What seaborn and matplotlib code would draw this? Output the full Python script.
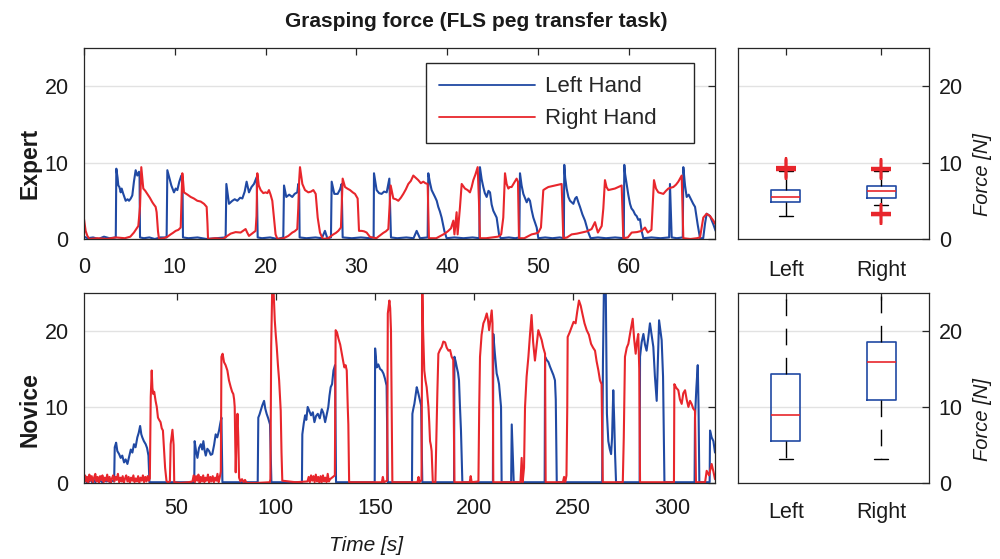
import numpy as np
import matplotlib
matplotlib.use("Agg")
import matplotlib.pyplot as plt
import seaborn as sns

# ---------------- data ----------------
expert_left_t = [0, 0.4, 1.0, 1.6, 2.2, 2.8, 3.5,
    3.56, 3.7, 3.78, 3.9, 4.04, 4.15, 4.3, 4.59, 4.8, 4.96, 5.15, 5.32, 5.5, 5.69, 5.87, 6.06, 6.12, 6.17,
    6.6, 7.2, 7.8, 8.4, 9.1,
    9.18, 9.4, 9.62, 9.91, 10.1, 10.28, 10.5, 10.72, 10.85, 10.9,
    11.5, 12.5, 13.5, 14.5, 15.6,
    15.68, 15.97, 16.34, 16.6, 16.89, 17.2, 17.44, 17.7, 17.91, 18.17, 18.45, 18.72, 19.02, 19.13,
    19.6, 20.5, 21.3, 21.95,
    22.03, 22.28, 22.6, 22.94, 23.2, 23.49, 23.6, 23.7, 23.75,
    24.5, 25.5, 26.2, 26.54, 26.8, 27.2,
    27.28, 27.57, 27.94, 28.2, 28.38, 28.49,
    29.5, 30.5, 31.5, 31.9,
    31.94, 32.23, 32.5, 32.78, 33.05, 33.34, 33.63, 33.81,
    34.5, 35.5, 36.3, 36.64, 37.0, 37.85,
    37.92, 38.1, 38.29, 38.66, 38.85, 39.02, 39.2, 39.39, 39.69, 39.94,
    40.8, 41.8, 42.8, 43.55,
    43.61, 43.8, 43.98, 44.15, 44.35, 44.55, 44.72, 44.9, 45.08, 45.45, 45.71, 45.9,
    46.8, 47.5, 47.95,
    48.02, 48.2, 48.39, 48.76, 48.95, 49.12, 49.3, 49.49, 49.86, 50.04,
    50.8, 51.6, 52.4, 52.85,
    52.9, 53.0, 53.16, 53.35, 53.53, 53.9, 54.1, 54.26, 54.45, 54.63, 54.9, 55.18, 55.55, 55.8,
    56.6, 57.5, 58.5, 59.45,
    59.51, 59.6, 59.77, 59.95, 60.14, 60.3, 60.5, 60.7, 60.87, 61.05, 61.24, 61.42, 61.6,
    62.5, 63.5, 64.45,
    64.54, 64.73, 65.3, 65.95,
    66.01, 66.2, 66.38, 66.6, 66.93, 67.1, 67.3, 67.59, 67.85,
    68.2, 68.4, 68.58, 68.95, 69.32, 69.57]
expert_left_f = [0.3, 0.1, 0.2, 0.0, 0.3, 0.1, 0.2,
    9.2, 8.0, 7.0, 6.8, 6.1, 6.6, 6.0, 5.0, 5.2, 5.0, 5.3, 5.7, 7.5, 9.0, 8.3, 8.8, 8.0, 0.2,
    0.1, 0.2, 0.0, 0.2, 0.2,
    9.0, 8.0, 7.0, 6.1, 6.6, 6.4, 7.5, 8.3, 7.5, 0.2,
    0.1, 0.2, 0.0, 0.1, 0.2,
    7.2, 4.6, 5.0, 5.2, 5.0, 5.4, 5.3, 6.2, 7.5, 6.1, 6.8, 7.2, 8.1, 0.2,
    0.1, 0.2, 0.0, 0.2,
    7.0, 5.5, 5.8, 5.5, 5.9, 6.1, 7.2, 6.5, 0.2,
    0.1, 0.2, 0.1, 1.06, 0.1, 0.2,
    7.5, 5.9, 5.9, 6.5, 7.2, 0.2,
    0.1, 0.2, 0.1, 0.2,
    8.6, 6.4, 6.0, 5.9, 6.2, 6.1, 7.9, 0.2,
    0.1, 0.2, 0.1, 1.06, 0.1, 0.2,
    8.6, 7.4, 6.4, 5.5, 5.0, 4.2, 3.6, 2.8, 1.06, 0.1,
    0.2, 0.1, 0.2, 0.1,
    9.4, 7.8, 6.8, 6.0, 5.5, 6.3, 6.1, 4.5, 3.7, 2.8, 0.6, 0.1,
    0.2, 0.1, 0.2,
    8.6, 7.0, 5.9, 4.8, 5.3, 5.0, 3.8, 2.8, 1.5, 0.1,
    0.2, 0.1, 0.2, 0.1,
    9.7, 8.0, 6.6, 5.5, 5.0, 4.6, 5.3, 5.5, 4.8, 4.2, 3.2, 2.4, 0.84, 0.1,
    0.2, 0.1, 0.2, 0.1,
    9.7, 8.5, 7.2, 5.8, 4.6, 4.0, 3.7, 3.2, 3.0, 2.5, 2.6, 1.06, 0.1,
    0.2, 0.1, 0.2,
    7.2, 0.2, 0.1, 0.2,
    9.4, 7.0, 5.5, 5.8, 5.0, 4.6, 4.2, 1.9, 0.1,
    0.1, 2.0, 3.3, 3.0, 1.9, 1.06]

expert_right_t = [0, 0.18, 0.37, 0.6, 1.5, 2.5, 3.5, 4.5, 5.1, 5.5, 5.98, 6.17, 6.31, 6.42, 6.53, 6.75, 6.97, 7.25, 7.53, 7.7, 7.89, 8.0, 8.15, 8.26,
    8.8, 9.2, 9.54, 9.8, 10.1, 10.4, 10.65, 10.83, 10.92, 11.01, 11.4, 11.75, 12.1, 12.48, 12.85, 13.22, 13.51, 13.6, 13.66,
    14.5, 15.3, 16.15, 16.7, 17.25, 17.8, 17.95, 18.17, 18.5, 18.9, 19.0, 19.09, 19.25, 19.46, 19.75, 20.0, 20.2, 20.37, 20.55, 20.74, 20.9, 21.1, 21.3,
    22.0, 22.5, 22.94, 23.2, 23.49, 23.6, 23.7, 23.79, 23.9, 24.05, 24.34, 24.71, 25.0, 25.26, 25.52, 25.74, 25.99, 26.3,
    26.9, 27.46, 27.75, 28.01, 28.3, 28.49, 28.75, 29.0, 29.3, 29.6, 29.85, 30.14, 30.29, 30.58, 30.85, 31.13, 31.5,
    32.2, 32.97, 33.25, 33.52, 33.78, 34.07, 34.35, 34.62, 34.9, 35.17, 35.45, 35.72, 36.0, 36.27, 36.55, 36.82, 37.1, 37.37, 37.6, 37.85, 37.99,
    38.8, 39.58, 39.85, 40.13, 40.42, 40.68, 40.8, 41.04, 41.15, 41.4, 41.6, 41.96, 42.25, 42.51, 42.7, 42.88, 43.1, 43.36, 43.5, 43.61,
    44.3, 45.0, 45.6, 45.95, 46.18, 46.37, 46.55, 46.74, 46.9, 47.1, 47.4, 47.65, 47.8, 47.91,
    48.5, 49.3, 49.7, 50.04, 50.33, 50.59, 50.85, 51.14, 51.5, 51.88, 52.2, 52.61, 52.79,
    53.2, 53.71, 54.3, 54.81, 55.4, 55.91, 56.28, 56.6, 57.02, 57.2, 57.38, 57.55, 57.75, 58.1, 58.48, 58.85, 59.22, 59.4,
    59.9, 60.32, 60.9, 61.42, 61.79, 62.1, 62.5, 62.78, 63.0, 63.26, 63.55, 63.81, 64.1, 64.36, 64.6, 64.91, 65.2, 65.46, 65.83, 66.01,
    66.8, 67.5, 67.85, 68.21, 68.58, 68.95, 69.32, 69.5]
expert_right_f = [2.6, 1.06, 0.4, 0.0, 0.1, 0.0, 0.2, 0.1, 0.3, 0.84, 1.7, 4.2, 9.4, 8.0, 6.6, 6.3, 5.9, 5.4, 4.8, 4.5, 4.2, 3.5, 1.0, 0.0,
    0.1, 0.3, 0.6, 0.8, 1.06, 1.2, 1.5, 8.6, 7.5, 6.1, 5.8, 5.5, 5.3, 5.0, 4.9, 4.6, 4.2, 2.0, 0.0,
    0.1, 0.0, 0.7, 0.9, 0.84, 1.3, 0.9, 0.4, 0.7, 1.06, 3.0, 8.6, 7.0, 6.4, 6.0, 6.1, 6.0, 6.4, 5.8, 5.0, 3.0, 0.6, 0.0,
    0.1, 0.4, 0.84, 1.0, 1.3, 4.0, 7.7, 9.4, 8.5, 7.2, 6.4, 6.1, 6.2, 6.4, 5.9, 2.8, 0.84, 0.0,
    0.1, 0.6, 0.8, 1.06, 1.5, 7.9, 6.8, 6.6, 6.4, 6.1, 5.9, 5.3, 1.06, 1.06, 1.0, 0.84, 0.26,
    0.1, 0.8, 1.0, 1.3, 7.0, 5.3, 5.2, 5.0, 5.4, 5.9, 6.5, 7.2, 7.6, 8.3, 8.0, 7.7, 7.3, 7.5, 7.3, 7.2, 0.1,
    0.1, 0.6, 0.8, 1.06, 1.4, 2.4, 0.6, 3.5, 0.6, 4.0, 7.2, 6.6, 6.4, 6.1, 6.8, 7.7, 8.4, 9.4, 5.0, 0.1,
    0.1, 0.2, 0.3, 0.6, 2.8, 8.6, 7.2, 6.6, 6.8, 6.8, 7.4, 7.9, 7.5, 0.1,
    0.1, 0.6, 0.7, 0.84, 1.5, 6.4, 6.6, 6.8, 6.9, 7.0, 7.1, 7.2, 0.1,
    0.2, 0.6, 0.7, 0.84, 1.0, 1.3, 2.2, 0.84, 1.7, 4.0, 7.7, 6.8, 6.4, 6.5, 6.6, 6.8, 7.0, 0.1,
    0.2, 0.84, 0.9, 1.06, 1.5, 0.84, 1.2, 7.7, 6.6, 6.1, 6.0, 5.9, 6.3, 6.6, 6.7, 6.8, 7.1, 7.5, 8.3, 0.1,
    0.0, 0.1, 0.2, 2.8, 3.3, 3.0, 2.4, 2.0]

novice_left_t = [3.3, 4.0, 4.6, 5.3, 6.0, 6.8, 7.5, 8.3, 9.0, 9.8, 10.6, 11.5, 12.5, 13.5, 14.5, 15.5, 16.5, 17.5, 18.5,
    18.8, 19.5, 20.1, 21.0, 21.8, 22.6, 23.5, 24.3, 25.2, 26.0, 26.9, 27.7, 28.5, 29.3, 30.2, 30.9, 31.6, 32.2, 32.7, 33.5, 34.4, 35.1, 35.8, 36.3,
    40, 45, 50, 55, 58.9,
    59.1, 59.8, 60.5, 61.3, 62.2, 62.9, 63.5, 64.1, 64.7, 65.5, 66.4, 67.2, 68.0, 68.9, 69.7, 70.5, 71.4, 72.0, 72.6, 73.1,
    80, 90.9,
    91.2, 91.8, 92.4, 93.2, 94.1, 94.7, 95.4, 96.2, 97.1, 97.8,
    105, 113.2,
    113.4, 114.1, 114.8, 115.4, 116.1, 117.0, 117.8, 118.7, 119.5, 120.3, 121.2, 122.2, 123.2, 124.0, 124.9, 125.7, 126.5, 127.1, 127.7, 128.4, 129.1, 129.9, 130.4,
    140, 149.9,
    150.1, 150.9, 151.7, 152.6, 153.5, 154.3, 155.1, 155.9, 156.5,
    162, 168.7,
    168.9, 169.4, 169.9, 170.5, 171.1, 171.7, 172.3, 172.8, 173.3, 173.9,
    182, 189.9,
    190.1, 190.7, 191.3, 191.9, 192.4, 192.9, 193.4, 194.1,
    200, 209.5,
    209.7, 210.5, 211.4, 212.0, 212.6, 213.1, 213.6, 213.9,
    216.5, 218.7, 219.0, 219.5, 220.0,
    228, 235.6,
    235.8, 236.6, 237.5, 238.3, 239.1, 240.0, 240.8, 241.2, 241.7,
    250, 264.6,
    265.0, 265.5, 266.4, 267.0, 267.7, 268.4, 269.1, 269.6, 270.2, 270.7, 271.1, 271.6,
    276, 283.5,
    283.7, 284.5, 285.4, 286.2, 287.0, 287.8, 288.7, 289.5, 290.4, 291.2, 292.1, 292.7, 293.3, 294.0, 294.6, 295.3, 296.0,
    303, 311.2,
    311.4, 312.1, 312.8, 313.2, 313.6,
    318.8, 319.0, 319.8, 320.7, 321.5]
novice_left_f = [0.5, 0.9, 0.1, 0.6, 0.2, 0.7, 0.0, 0.4, 0.1, 0.5, 0.2, 0.3, 0.1, 0.4, 0.2, 0.3, 0.1, 0.3, 0.2,
    4.7, 5.3, 4.2, 3.8, 3.3, 3.6, 2.7, 3.1, 2.5, 3.4, 4.4, 4.0, 5.1, 4.7, 6.0, 6.6, 7.5, 6.4, 6.0, 5.5, 5.1, 4.6, 3.6, 0.1,
    0.1, 0.1, 0.1, 0.1, 0.1,
    5.5, 4.2, 3.3, 4.6, 5.1, 4.4, 5.5, 4.3, 3.6, 4.5, 4.2, 3.7, 3.8, 5.0, 6.4, 6.0, 6.9, 7.8, 8.6, 0.1,
    0.1, 0.1,
    8.6, 9.0, 9.5, 10.2, 10.8, 9.8, 9.1, 8.5, 7.7, 0.1,
    0.1, 0.1,
    6.4, 7.8, 8.9, 8.3, 10.0, 9.4, 8.9, 9.3, 8.0, 8.8, 9.1, 8.5, 9.7, 9.2, 8.0, 9.0, 10.0, 11.5, 12.6, 13.0, 14.8, 15.5, 0.1,
    0.1, 0.1,
    17.7, 15.2, 15.6, 15.0, 14.8, 14.4, 13.7, 12.8, 0.1,
    0.1, 0.1,
    9.1, 9.8, 10.4, 11.5, 12.6, 12.0, 11.3, 10.7, 10.2, 0.1,
    0.1, 0.1,
    16.6, 16.0, 15.2, 14.5, 13.5, 10.0, 6.9, 0.1,
    0.1, 0.1,
    19.6, 17.0, 14.4, 13.8, 13.0, 11.5, 10.0, 0.1,
    0.1, 0.1, 7.7, 4.0, 0.1,
    0.1, 0.1,
    16.6, 16.2, 15.9, 15.3, 14.8, 14.2, 13.5, 11.0, 0.1,
    0.1, 0.1,
    16.0, 26.0, 26.0, 9.1, 5.5, 4.5, 3.8, 6.0, 12.2, 8.0, 3.8, 0.1,
    0.1, 0.1,
    16.6, 18.5, 19.6, 18.2, 17.4, 19.0, 21.0, 19.5, 17.9, 14.0, 10.8, 16.0, 21.4, 20.0, 18.8, 14.0, 0.1,
    0.1, 0.1,
    8.6, 12.5, 15.5, 10.0, 0.1,
    0.1, 6.9, 6.0, 5.5, 4.0]

novice_right_t = [3.3, 3.8, 4.3, 4.9, 5.4, 6.0, 6.6, 7.2, 7.8, 8.4, 9.0, 9.6, 10.2, 10.8, 11.4, 12.0, 12.6, 13.2, 13.8, 14.4,
    15.0, 15.6, 16.2, 16.8, 17.4, 18.0, 18.6, 19.2, 19.8, 20.4, 21.0, 21.6, 22.2, 22.8, 23.4, 24.0, 24.6, 25.2, 25.8, 26.4,
    27.0, 27.6, 28.2, 28.8, 29.4, 30.0, 30.6, 31.2, 31.8, 32.4, 33.0, 33.6, 34.2, 34.8, 35.4, 36.0, 36.5,
    36.95, 37.45, 37.8, 38.25, 38.7, 39.4, 40.0, 40.6, 41.2, 41.9, 42.5, 43.1, 43.6, 44.2, 44.9,
    45.5, 46.6, 47.0, 47.9, 48.5, 48.8,
    52, 56, 58.0, 58.6, 59.2, 59.8, 60.4, 61.0, 61.6, 62.2, 62.8, 63.4, 64.0, 64.6, 65.2, 65.8, 66.4, 67.0, 67.6, 68.2, 68.8, 69.4, 70.0, 70.6, 71.2, 71.8, 72.3,
    72.6, 73.2, 73.9, 74.7, 75.6, 76.4, 77.3, 78.0, 78.6, 79.0, 79.3, 79.8, 80.2, 80.7, 81.1, 81.5, 82.2, 83.0, 83.8, 84.5, 85.3,
    90, 97.0, 97.3,
    97.7, 98.2, 98.8, 99.2, 99.5, 100.0, 100.5, 101.1, 101.7, 102.1, 102.5, 102.9, 103.3,
    110, 116.0, 116.6, 117.2, 117.8, 118.4, 119.0, 119.6, 120.2, 120.8, 121.4, 122.0, 122.6, 123.2, 123.8, 124.4, 125.0, 125.6, 126.2, 126.8, 127.4,
    129.8, 130.2, 130.9, 131.6, 132.5, 133.3, 134.0, 134.6, 135.2, 135.8, 136.3, 136.6, 137.0,
    145, 153.5, 154.0, 154.5, 156.2,
    156.5, 157.3, 157.7, 158.1, 158.8,
    165, 171.5, 172.0, 172.5, 173.5,
    173.9, 174.3, 174.9, 175.5, 176.1, 176.5, 177.0, 177.4, 177.8, 178.2, 178.6, 179.2,
    180.5, 181.5, 182.0, 182.8, 183.7, 184.5, 185.4, 186.2, 187.1, 187.9, 188.7, 189.5, 190.1,
    195, 197.8, 198.3, 198.8, 202.2,
    202.6, 203.0, 203.8, 204.7, 205.5, 206.4, 207.0, 207.6, 208.3, 208.9, 209.3, 209.7,
    215, 223.4, 224.0, 224.5, 225.2,
    225.7, 226.5, 227.4, 228.2, 229.0, 229.8, 230.7, 231.5, 232.4, 233.2, 234.1, 234.9, 235.8, 236.1,
    240, 244.8, 245.4, 246.0, 246.6,
    247.0, 247.2, 248.2, 249.2, 250.2, 251.2, 252.0, 252.9, 253.8, 254.6, 255.7, 256.8, 257.9, 259.0, 260.0, 261.0, 261.8, 262.7, 263.5, 264.3, 264.9,
    270, 275.0,
    275.5, 276.1, 277.0, 277.8, 278.9, 280.0, 280.7, 281.5, 282.1, 282.8, 283.3, 283.7,
    290, 300.8,
    301.0, 302.0, 303.0, 303.8, 304.7, 305.5, 306.4, 307.2, 308.1, 308.9, 309.7, 310.5, 311.4, 311.9,
    316.5, 317.3, 318.5, 319.8, 320.7, 321.5]
novice_right_f = [0.3, 1.0, 0.2, 0.8, 0.0, 1.1, 0.3, 0.9, 0.1, 0.7, 1.2, 0.2, 0.8, 0.0, 0.9, 0.4, 1.0, 0.1, 0.7, 0.3,
    1.1, 0.2, 0.8, 0.0, 0.6, 1.0, 0.2, 0.8, 0.4, 1.2, 0.1, 0.7, 0.2, 0.9, 0.0, 0.6, 1.0, 0.2, 0.8, 0.0,
    0.7, 0.3, 1.0, 0.1, 0.6, 0.2, 0.9, 0.0, 0.7, 0.3, 1.0, 0.1, 0.8, 0.2, 0.9, 0.3, 0.6,
    11.3, 14.8, 12.5, 11.7, 12.0, 10.8, 10.0, 8.6, 8.3, 8.0, 7.2, 6.9, 4.7, 2.0, 0.26,
    0.1, 0.2, 5.1, 7.0, 5.0, 0.1,
    0.0, 0.1, 0.2, 1.0, 0.1, 0.9, 0.3, 1.1, 0.0, 0.8, 0.2, 1.0, 0.1, 0.7, 0.3, 1.1, 0.0, 0.8, 0.2, 0.9, 0.1, 0.7, 0.3, 1.2, 0.1, 0.8, 1.5,
    16.6, 17.0, 15.9, 15.5, 14.8, 13.5, 12.6, 12.0, 11.7, 11.0, 10.0, 1.4, 6.0, 9.1, 6.0, 0.7, 0.2, 0.5, 0.1, 0.4, 0.0,
    0.0, 0.1, 0.5,
    18.0, 25.5, 26.0, 23.5, 21.4, 19.5, 17.9, 15.5, 13.5, 11.5, 9.5, 4.0, 0.3,
    0.1, 0.2, 0.8, 0.1, 1.0, 0.3, 0.9, 0.1, 1.1, 0.2, 0.8, 0.0, 0.9, 0.1, 1.0, 0.2, 0.7, 0.1, 1.2, 0.2, 0.5,
    1.0, 20.1, 19.8, 19.0, 18.2, 17.0, 16.0, 15.2, 15.5, 14.8, 10.0, 7.7, 0.1,
    0.1, 0.1, 0.8, 0.1, 0.3,
    22.3, 24.0, 23.0, 20.1, 0.1,
    0.1, 0.1, 0.8, 0.1, 0.4,
    26.0, 20.0, 14.8, 13.5, 12.6, 11.5, 10.0, 8.0, 5.5, 5.0, 4.2, 0.1,
    0.1, 12.0, 17.0, 17.5, 17.9, 18.6, 18.5, 17.8, 17.4, 17.5, 16.6, 16.2, 0.1,
    0.1, 0.1, 0.9, 0.1, 0.2,
    10.0, 16.6, 19.5, 21.0, 21.5, 22.3, 21.5, 20.1, 21.5, 22.7, 21.0, 0.1,
    0.1, 0.1, 3.3, 0.1, 2.0,
    10.0, 14.0, 16.6, 19.5, 22.1, 18.5, 16.1, 18.0, 20.1, 19.5, 18.8, 17.8, 17.0, 0.1,
    0.1, 0.1, 0.8, 0.1, 1.0,
    10.0, 19.2, 19.8, 20.5, 21.2, 21.0, 22.5, 24.0, 23.3, 22.3, 21.0, 20.1, 19.5, 18.3, 17.8, 17.4, 16.0, 14.8, 13.5, 13.0, 0.1,
    0.1, 0.1,
    6.0, 16.6, 17.8, 18.3, 20.0, 21.6, 19.0, 17.0, 18.5, 19.6, 15.0, 0.1,
    0.1, 0.1,
    13.0, 12.5, 12.2, 11.0, 10.4, 11.8, 12.2, 11.0, 10.0, 10.8, 10.4, 9.8, 9.5, 0.1,
    0.1, 1.6, 1.0, 2.5, 1.5, 0.5]

hand_labels = ["Left Hand", "Right Hand"]
box_labels = ["Left", "Right"]

# box-plot summaries
expert_q1 = [4.8, 5.4]
expert_med = [5.5, 6.3]
expert_q3 = [6.4, 6.9]
expert_whislo = [3.0, 4.4]
expert_whishi = [8.9, 8.9]
expert_fliers_left = [9.0, 9.05, 9.1, 9.15, 9.2, 9.25, 9.3, 9.35, 9.4]
expert_fliers_right = [3.1, 3.15, 3.2, 3.25, 3.3, 3.35, 3.4, 9.0, 9.05, 9.1, 9.15, 9.2, 9.25, 9.3]

novice_q1 = [5.5, 10.9]
novice_med = [9.0, 15.9]
novice_q3 = [14.3, 18.5]
novice_whislo = [3.1, 3.1]
novice_whishi = [28.0, 28.0]

# ---------------- style ----------------
sns.set_theme(style="white")
plt.rcParams['font.family'] = ['Liberation Sans', 'DejaVu Sans']
plt.rcParams['axes.edgecolor'] = '#262626'
plt.rcParams['axes.linewidth'] = 0.9

BLUE = "#2049a3"
RED = "#e8262c"
GRID = "#e2e2e2"
DARK = "#262626"
TXT = "#1a1a1a"
TICK_FS = 15.5

fig = plt.figure(figsize=(10, 5.59), dpi=100)
ax_e = fig.add_axes([0.084, 0.5725, 0.631, 0.3417])
ax_eb = fig.add_axes([0.738, 0.5725, 0.191, 0.3417])
ax_n = fig.add_axes([0.084, 0.136, 0.631, 0.340])
ax_nb = fig.add_axes([0.738, 0.136, 0.191, 0.340])


def style_axes(ax, xpad):
    ax.set_ylim(0, 25)
    ax.set_yticks([0, 10, 20])
    ax.yaxis.grid(True, color=GRID, lw=1.0)
    ax.xaxis.grid(False)
    ax.set_axisbelow(True)
    for s in ax.spines.values():
        s.set_visible(True)
        s.set_color(DARK)
        s.set_linewidth(0.9)
    ax.tick_params(axis='both', direction='in', length=5, width=0.9, color=DARK,
                   labelsize=TICK_FS, labelcolor=TXT, top=True, right=True)
    ax.tick_params(axis='x', pad=xpad)
    ax.set_xlabel("")
    ax.set_ylabel("")


def draw_series(ax, t, f, color, label):
    sns.lineplot(x=np.asarray(t), y=np.asarray(f), ax=ax, color=color, lw=1.5,
                 estimator=None, sort=False, legend=False)
    ax.lines[-1].set_label(label)


# expert time series
draw_series(ax_e, expert_left_t, expert_left_f, BLUE, hand_labels[0])
draw_series(ax_e, expert_right_t, expert_right_f, RED, hand_labels[1])
style_axes(ax_e, 13)
ax_e.set_xlim(0, 69.5)
ax_e.set_xticks([0, 10, 20, 30, 40, 50, 60])
ax_e.tick_params(axis='y', pad=11)
leg = ax_e.legend(handles=ax_e.lines[:2], labels=[h + "    " for h in hand_labels],
                  loc='upper right', bbox_to_anchor=(0.967, 0.921), fontsize=16,
                  frameon=True, fancybox=False, handlelength=4.3, handletextpad=0.45,
                  borderpad=0.6, labelspacing=0.5, borderaxespad=0.0)
leg.get_frame().set_edgecolor(DARK)
leg.get_frame().set_linewidth(1.0)
leg.get_frame().set_alpha(1)
for ln in leg.get_lines():
    ln.set_linewidth(1.3)

# novice time series
draw_series(ax_n, novice_left_t, novice_left_f, BLUE, hand_labels[0])
draw_series(ax_n, novice_right_t, novice_right_f, RED, hand_labels[1])
style_axes(ax_n, 11)
ax_n.set_xlim(3.3, 321.5)
ax_n.set_xticks([50, 100, 150, 200, 250, 300])
ax_n.tick_params(axis='y', pad=11)


def draw_box(ax, q1, med, q3, lo, hi, fliers, xpad):
    stats = []
    for i in range(2):
        stats.append(dict(label=box_labels[i], q1=q1[i], med=med[i], q3=q3[i],
                          whislo=lo[i], whishi=hi[i], fliers=fliers[i]))
    ax.bxp(stats, positions=[1, 2], widths=0.3, capwidths=0.15, showfliers=True,
           boxprops=dict(color=BLUE, lw=1.2),
           medianprops=dict(color=RED, lw=1.2),
           whiskerprops=dict(color='black', lw=1.0, linestyle=(0, (12, 9))),
           capprops=dict(color='black', lw=1.0),
           flierprops=dict(marker='+', markeredgecolor=RED, markerfacecolor=RED,
                           markersize=14, markeredgewidth=1.6, linestyle='none'))
    style_axes(ax, xpad)
    ax.set_xlim(0.5, 2.5)
    ax.set_xticks([1, 2])
    ax.set_xticklabels(box_labels)
    ax.tick_params(axis='y', labelleft=False, labelright=True, pad=7)


draw_box(ax_eb, expert_q1, expert_med, expert_q3, expert_whislo, expert_whishi,
         [expert_fliers_left, expert_fliers_right], 15)
draw_box(ax_nb, novice_q1, novice_med, novice_q3, novice_whislo, novice_whishi, [[], []], 14)

# texts
fig.text(0.476, 0.961, "Grasping force (FLS peg transfer task)", ha='center', va='center',
         fontsize=15, fontweight='bold', color=TXT)
fig.text(0.030, 0.707, "Expert", rotation=90, ha='center', va='center', fontsize=16.5,
         fontweight='bold', color=TXT)
fig.text(0.030, 0.267, "Novice", rotation=90, ha='center', va='center', fontsize=16.5,
         fontweight='bold', color=TXT)
fig.text(0.983, 0.687, "Force [N]", rotation=90, ha='center', va='center', fontsize=14.5,
         fontstyle='italic', color=TXT)
fig.text(0.983, 0.249, "Force [N]", rotation=90, ha='center', va='center', fontsize=14.5,
         fontstyle='italic', color=TXT)
fig.text(0.366, 0.025, "Time [s]", ha='center', va='center', fontsize=15,
         fontstyle='italic', color=TXT)

fig.savefig("out.png", dpi=100)
